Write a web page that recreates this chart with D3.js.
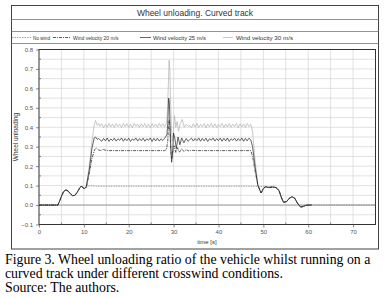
<!DOCTYPE html>
<html><head><meta charset="utf-8">
<script src="https://cdn.jsdelivr.net/npm/d3@7"></script>
<style>body{margin:0;background:#fff}svg{display:block}</style>
</head><body>
<svg id="c" width="384" height="297"></svg>
<script>
// ---------- data ----------
const title = "Wheel unloading. Curved track";
const seriesNames = ["No wind", "Wind velocity 20 m/s", "Wind velocity 25 m/s", "Wind velocity 30 m/s"];
const xTicks = [0, 10, 20, 30, 40, 50, 60, 70];
const yTicks = [-0.1, 0.0, 0.1, 0.2, 0.3, 0.4, 0.5, 0.6, 0.7, 0.8];
const captionLines = [
  "Figure 3. Wheel unloading ratio of the vehicle whilst running on a",
  "curved track under different crosswind conditions.",
  "Source: The authors."
];

// common entry transition (all series)
const entryT = [0, 4.2, 4.6, 5.0, 5.5, 6.0, 6.5, 7.0, 7.5, 8.0, 8.5, 9.0, 9.4, 9.8, 10.1, 10.4];
const entryV = [0, 0, 0.02, 0.045, 0.07, 0.078, 0.072, 0.058, 0.048, 0.05, 0.065, 0.085, 0.097, 0.09, 0.085, 0.09];
// common exit transition (all series)
const exitT = [53.5, 54.0, 54.5, 55.2, 55.8, 56.4, 57.0, 57.6, 58.3, 58.8, 59.4, 60.0];
const exitV = [0.075, 0.04, 0.014, 0.018, 0.035, 0.043, 0.035, 0.01, -0.01, -0.008, -0.002, 0];
// wind series after leaving the curve
const windDropT = [49.5, 50.0, 50.5, 51.2, 52.0, 52.8];
const windDropV = [0.062, 0.085, 0.094, 0.09, 0.093, 0.09];
const windEndT = [60.8];
const windEndV = [0];

// no wind
const noWindT = [10.8, 11.5, 12.5, 20, 30, 40, 47.5, 50, 52.8];
const noWindV = [0.097, 0.1, 0.097, 0.097, 0.097, 0.097, 0.097, 0.095, 0.093];
const noWindTailT = [75];
const noWindTailV = [0];

// wind 20 m/s
const w20T = [10.6, 11.2, 11.8, 12.4, 12.8, 13.3, 13.8, 14.3, 14.8, 15.5, 20, 25, 28.0, 28.4, 28.7, 28.9, 29.05, 29.2, 29.4, 29.6, 29.8, 30.1, 30.5, 30.9, 31.3, 31.8, 32.3, 32.8, 33.4, 34, 35, 40, 47.2, 47.6, 48.2, 48.8];
const w20V = [0.095, 0.16, 0.24, 0.285, 0.293, 0.283, 0.28, 0.287, 0.282, 0.28, 0.28, 0.28, 0.28, 0.285, 0.33, 0.42, 0.44, 0.37, 0.27, 0.24, 0.27, 0.305, 0.27, 0.295, 0.272, 0.29, 0.275, 0.285, 0.278, 0.282, 0.28, 0.28, 0.28, 0.25, 0.17, 0.1];

// wind 25 m/s
const w25RiseT = [10.5, 11.2, 11.8, 12.3, 12.6, 13.0, 13.3];
const w25RiseV = [0.09, 0.18, 0.29, 0.345, 0.35, 0.338, 0.342];
const w25PlatA = [0.335,0.328,0.343,0.33,0.345,0.327,0.34,0.332,0.344,0.329,0.341,0.333,0.345,0.328,0.342,0.331,0.344,0.327,0.34,0.333,0.345,0.329,0.342,0.331,0.344,0.328,0.341,0.333,0.345,0.327,0.343,0.33,0.344,0.329,0.341,0.332,0.343];
const w25SpikeT = [28.5, 28.7, 28.9, 29.05, 29.2, 29.4, 29.55, 29.75, 30.0, 30.3, 30.6, 31.0, 31.4, 31.8, 32.3, 32.8, 33.2];
const w25SpikeV = [0.36, 0.42, 0.55, 0.53, 0.42, 0.29, 0.22, 0.26, 0.37, 0.34, 0.29, 0.35, 0.31, 0.345, 0.32, 0.342, 0.328];
const w25PlatB = [0.336,0.344,0.329,0.342,0.331,0.345,0.328,0.343,0.33,0.344,0.327,0.341,0.333,0.345,0.329,0.342,0.331,0.344,0.328,0.343,0.33,0.345,0.327,0.341,0.333,0.344,0.329,0.342,0.331,0.345,0.328,0.343,0.33,0.344,0.335];
const w25FallT = [47.6, 48.2, 48.8];
const w25FallV = [0.30, 0.19, 0.1];

// wind 30 m/s
const w30RiseT = [10.5, 11.2, 11.8, 12.3, 12.6, 13.0, 13.3];
const w30RiseV = [0.09, 0.2, 0.33, 0.41, 0.435, 0.41, 0.42];
const w30PlatA = [0.405,0.418,0.398,0.415,0.40,0.42,0.402,0.417,0.399,0.419,0.404,0.416,0.398,0.42,0.403,0.418,0.40,0.415,0.397,0.42,0.405,0.417,0.399,0.418,0.402,0.42,0.40,0.416,0.398,0.419,0.403,0.417,0.40,0.42,0.404,0.418,0.402];
const w30SpikeT = [28.4, 28.6, 28.8, 29.0, 29.15, 29.3, 29.5, 29.7, 29.9, 30.2, 30.5, 30.8, 31.1, 31.5, 31.9, 32.4, 32.8, 33.2];
const w30SpikeV = [0.42, 0.47, 0.6, 0.745, 0.7, 0.55, 0.4, 0.33, 0.36, 0.46, 0.40, 0.43, 0.38, 0.42, 0.44, 0.40, 0.415, 0.405];
const w30PlatB = [0.41,0.398,0.418,0.401,0.42,0.399,0.416,0.403,0.419,0.397,0.417,0.402,0.42,0.4,0.418,0.399,0.415,0.404,0.42,0.398,0.417,0.401,0.419,0.4,0.416,0.403,0.42,0.398,0.418,0.402,0.417,0.399,0.42,0.404,0.415];
const w30FallT = [47.6, 48.2, 48.8];
const w30FallV = [0.38, 0.22, 0.1];

// sampling of the plateau arrays (s)
const platAStart = 13.6, platBStart = 33.6, platStep = 0.4;

// ---------- build ----------
const zip = (T, V) => T.map((t, i) => [t, V[i]]);
const plat = (start, V) => V.map((v, i) => [start + i * platStep, v]);
const entry = zip(entryT, entryV), exit = zip(exitT, exitV);
const wDrop = zip(windDropT, windDropV), wEnd = zip(windEndT, windEndV);

const sNo = [...entry, ...zip(noWindT, noWindV), ...exit, ...zip(noWindTailT, noWindTailV)];
const s20 = [...entry, ...zip(w20T, w20V), ...wDrop, ...exit, ...wEnd];
const s25 = [...entry, ...zip(w25RiseT, w25RiseV), ...plat(platAStart, w25PlatA), ...zip(w25SpikeT, w25SpikeV), ...plat(platBStart, w25PlatB), ...zip(w25FallT, w25FallV), ...wDrop, ...exit, ...wEnd];
const s30 = [...entry, ...zip(w30RiseT, w30RiseV), ...plat(platAStart, w30PlatA), ...zip(w30SpikeT, w30SpikeV), ...plat(platBStart, w30PlatB), ...zip(w30FallT, w30FallV), ...wDrop, ...exit, ...wEnd];

const styles = [
  {stroke: "#808080", width: 0.7, dash: "1.5,1"},
  {stroke: "#111", width: 0.7, dash: "3,1,1,1"},
  {stroke: "#222", width: 0.7, dash: null},
  {stroke: "#b0b0b0", width: 0.7, dash: null}
];
const seriesData = [sNo, s20, s25, s30];

// ---------- draw ----------
const svg = d3.select("#c");
const sans = "'Liberation Sans', Arial, sans-serif";

// outer box
svg.append("rect").attr("x", 11.5).attr("y", 5.5).attr("width", 367).attr("height", 243.5)
  .attr("fill", "none").attr("stroke", "#444").attr("stroke-width", 1);
[19.5, 31.5, 43.5].forEach(yy => svg.append("line").attr("x1", 11.5).attr("x2", 378.5)
  .attr("y1", yy).attr("y2", yy).attr("stroke", "#777").attr("stroke-width", 0.8));

svg.append("text").attr("x", 195).attr("y", 16).attr("text-anchor", "middle")
  .attr("font-family", sans).attr("font-size", 8.5).attr("fill", "#333").text(title);

// legend
const legendItems = [
  {x1: 12, x2: 31, tx: 33, tl: 17},
  {x1: 53, x2: 70, tx: 73, tl: 45.5},
  {x1: 140, x2: 151, tx: 153, tl: 53},
  {x1: 223, x2: 233, tx: 236, tl: 57}
];
legendItems.forEach((it, i) => {
  const st = styles[i];
  svg.append("line").attr("x1", it.x1).attr("x2", it.x2).attr("y1", 37.5).attr("y2", 37.5)
    .attr("stroke", st.stroke).attr("stroke-width", st.width).attr("stroke-dasharray", st.dash);
  svg.append("text").attr("x", it.tx).attr("y", 39.5).attr("font-family", sans).attr("font-size", 5.8)
    .attr("fill", "#333").attr("textLength", it.tl).attr("lengthAdjust", "spacingAndGlyphs").text(seriesNames[i]);
});

const x = d3.scaleLinear([0, 75], [39, 375.5]);
const y = d3.scaleLinear([-0.1, 0.8], [224.5, 49.5]);

// grid
const g = svg.append("g");
g.selectAll("line.vx").data(d3.range(5, 75, 5)).join("line")
  .attr("x1", d => x(d)).attr("x2", d => x(d)).attr("y1", y(-0.1)).attr("y2", y(0.8))
  .attr("stroke", "#d4d4d4").attr("stroke-width", 0.7);
g.selectAll("line.hy").data(d3.range(-0.05, 0.8, 0.05)).join("line")
  .attr("x1", x(0)).attr("x2", x(75)).attr("y1", d => y(d)).attr("y2", d => y(d))
  .attr("stroke", "#d4d4d4").attr("stroke-width", 0.7);
// zero line
svg.append("line").attr("x1", x(0)).attr("x2", x(75)).attr("y1", y(0)).attr("y2", y(0))
  .attr("stroke", "#888").attr("stroke-width", 0.8);

// series
const line = d3.line().x(d => x(d[0])).y(d => y(d[1]));
[3, 0, 1, 2].forEach(i => {
  const st = styles[i];
  svg.append("path").attr("d", line(seriesData[i])).attr("fill", "none")
    .attr("stroke", st.stroke).attr("stroke-width", st.width).attr("stroke-dasharray", st.dash)
    .attr("stroke-linejoin", "round");
});

// frame
svg.append("rect").attr("x", x(0)).attr("y", y(0.8)).attr("width", x(75) - x(0)).attr("height", y(-0.1) - y(0.8))
  .attr("fill", "none").attr("stroke", "#333").attr("stroke-width", 1);

// axes
const ax = svg.append("g").attr("transform", `translate(0,${y(-0.1)})`)
  .call(d3.axisBottom(x).tickValues(xTicks).tickSize(3).tickFormat(d3.format("d")));
const ay = svg.append("g").attr("transform", `translate(${x(0)},0)`)
  .call(d3.axisLeft(y).tickValues(yTicks).tickSize(3).tickFormat(d3.format(".1f")));
[ax, ay].forEach(a => {
  a.select(".domain").remove();
  a.selectAll("line").attr("stroke", "#555").attr("stroke-width", 0.7);
  a.selectAll("text").attr("font-family", sans).attr("font-size", 6).attr("fill", "#555");
});
ax.selectAll("text").attr("dy", "0.6em");
// minor inward ticks
svg.selectAll("line.mx").data(d3.range(5, 75, 10)).join("line")
  .attr("x1", d => x(d)).attr("x2", d => x(d)).attr("y1", y(-0.1)).attr("y2", y(-0.1) - 2)
  .attr("stroke", "#555").attr("stroke-width", 0.7);
svg.selectAll("line.my").data(d3.range(-0.05, 0.8, 0.1)).join("line")
  .attr("x1", x(0)).attr("x2", x(0) + 2).attr("y1", d => y(d)).attr("y2", d => y(d))
  .attr("stroke", "#555").attr("stroke-width", 0.7);

svg.append("text").attr("transform", "translate(18,137) rotate(-90)").attr("text-anchor", "middle")
  .attr("font-family", sans).attr("font-size", 6.5).attr("fill", "#333").text("Wheel unloading");
svg.append("text").attr("x", 207).attr("y", 244).attr("text-anchor", "middle")
  .attr("font-family", sans).attr("font-size", 6).attr("fill", "#333").text("time [s]");

// caption
captionLines.forEach((t, i) => {
  svg.append("text").attr("x", 5).attr("y", 263.5 + i * 14)
    .attr("font-family", "'Liberation Serif', 'Times New Roman', serif").attr("font-size", 13.8)
    .attr("fill", "#000").text(t);
});
</script>
</body></html>
